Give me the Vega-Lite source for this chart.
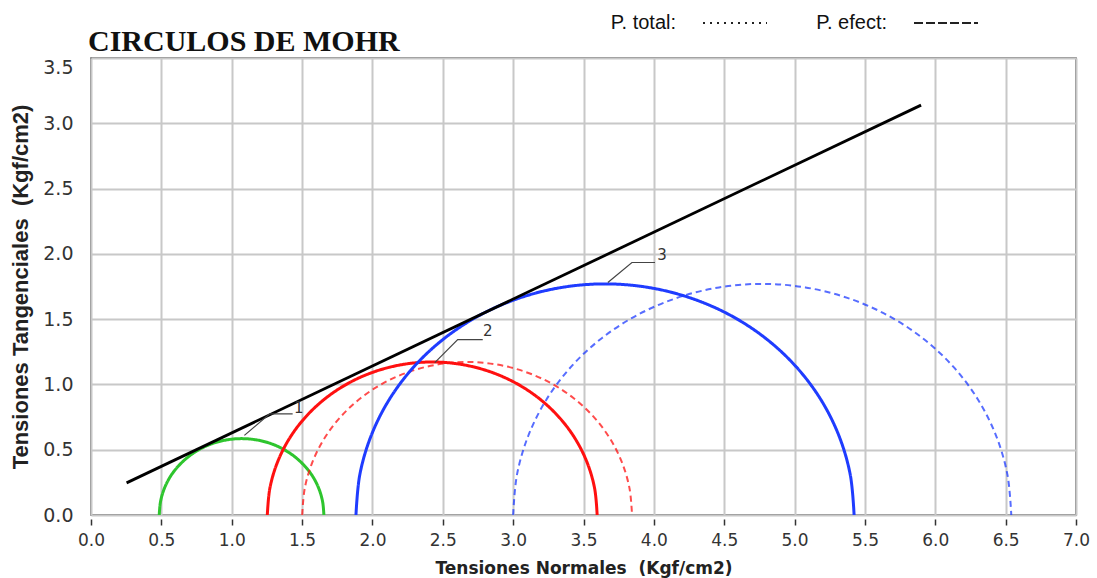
{
  "$schema": "https://vega.github.io/schema/vega-lite/v6.json",
  "width": 985,
  "height": 457,
  "autosize": "none",
  "padding": {"left": 91, "top": 58, "right": 21, "bottom": 63},
  "background": "white",
  "title": {"text": "CIRCULOS DE MOHR", "anchor": "start", "frame": "group", "font": "Liberation Serif", "fontSize": 30, "fontWeight": "bold", "color": "#111", "offset": -67, "dx": -3},
  "config": {"view": {"stroke": "#555", "strokeWidth": 1.5}},
  "resolve": {"scale": {"strokeDash": "independent"}},
  "datasets": {
    "circ": [
      {"c": "1", "t": "P. efect:", "x": 0.485, "y": 0}, {"c": "1", "t": "P. efect:", "x": 0.494, "y": 0.102}, {"c": "1", "t": "P. efect:", "x": 0.52, "y": 0.2}, {"c": "1", "t": "P. efect:", "x": 0.563, "y": 0.293}, {"c": "1", "t": "P. efect:", "x": 0.622, "y": 0.376}, {"c": "1", "t": "P. efect:", "x": 0.694, "y": 0.448}, {"c": "1", "t": "P. efect:", "x": 0.778, "y": 0.507}, {"c": "1", "t": "P. efect:", "x": 0.87, "y": 0.55}, {"c": "1", "t": "P. efect:", "x": 0.968, "y": 0.576}, {"c": "1", "t": "P. efect:", "x": 1.07, "y": 0.585}, {"c": "1", "t": "P. efect:", "x": 1.172, "y": 0.576}, {"c": "1", "t": "P. efect:", "x": 1.27, "y": 0.55}, {"c": "1", "t": "P. efect:", "x": 1.362, "y": 0.507}, {"c": "1", "t": "P. efect:", "x": 1.446, "y": 0.448}, {"c": "1", "t": "P. efect:", "x": 1.518, "y": 0.376}, {"c": "1", "t": "P. efect:", "x": 1.577, "y": 0.293}, {"c": "1", "t": "P. efect:", "x": 1.62, "y": 0.2}, {"c": "1", "t": "P. efect:", "x": 1.646, "y": 0.102}, {"c": "1", "t": "P. efect:", "x": 1.655, "y": 0},
      {"c": "2", "t": "P. efect:", "x": 1.253, "y": 0}, {"c": "2", "t": "P. efect:", "x": 1.271, "y": 0.204}, {"c": "2", "t": "P. efect:", "x": 1.324, "y": 0.401}, {"c": "2", "t": "P. efect:", "x": 1.41, "y": 0.586}, {"c": "2", "t": "P. efect:", "x": 1.527, "y": 0.753}, {"c": "2", "t": "P. efect:", "x": 1.672, "y": 0.898}, {"c": "2", "t": "P. efect:", "x": 1.839, "y": 1.015}, {"c": "2", "t": "P. efect:", "x": 2.024, "y": 1.101}, {"c": "2", "t": "P. efect:", "x": 2.222, "y": 1.154}, {"c": "2", "t": "P. efect:", "x": 2.425, "y": 1.172}, {"c": "2", "t": "P. efect:", "x": 2.628, "y": 1.154}, {"c": "2", "t": "P. efect:", "x": 2.826, "y": 1.101}, {"c": "2", "t": "P. efect:", "x": 3.011, "y": 1.015}, {"c": "2", "t": "P. efect:", "x": 3.178, "y": 0.898}, {"c": "2", "t": "P. efect:", "x": 3.323, "y": 0.753}, {"c": "2", "t": "P. efect:", "x": 3.44, "y": 0.586}, {"c": "2", "t": "P. efect:", "x": 3.526, "y": 0.401}, {"c": "2", "t": "P. efect:", "x": 3.579, "y": 0.204}, {"c": "2", "t": "P. efect:", "x": 3.597, "y": 0},
      {"c": "2", "t": "P. total:", "x": 1.501, "y": 0}, {"c": "2", "t": "P. total:", "x": 1.519, "y": 0.204}, {"c": "2", "t": "P. total:", "x": 1.572, "y": 0.401}, {"c": "2", "t": "P. total:", "x": 1.658, "y": 0.586}, {"c": "2", "t": "P. total:", "x": 1.775, "y": 0.753}, {"c": "2", "t": "P. total:", "x": 1.92, "y": 0.898}, {"c": "2", "t": "P. total:", "x": 2.087, "y": 1.015}, {"c": "2", "t": "P. total:", "x": 2.272, "y": 1.101}, {"c": "2", "t": "P. total:", "x": 2.47, "y": 1.154}, {"c": "2", "t": "P. total:", "x": 2.673, "y": 1.172}, {"c": "2", "t": "P. total:", "x": 2.876, "y": 1.154}, {"c": "2", "t": "P. total:", "x": 3.074, "y": 1.101}, {"c": "2", "t": "P. total:", "x": 3.259, "y": 1.015}, {"c": "2", "t": "P. total:", "x": 3.426, "y": 0.898}, {"c": "2", "t": "P. total:", "x": 3.571, "y": 0.753}, {"c": "2", "t": "P. total:", "x": 3.688, "y": 0.586}, {"c": "2", "t": "P. total:", "x": 3.774, "y": 0.401}, {"c": "2", "t": "P. total:", "x": 3.827, "y": 0.204}, {"c": "2", "t": "P. total:", "x": 3.845, "y": 0},
      {"c": "3", "t": "P. efect:", "x": 1.883, "y": 0}, {"c": "3", "t": "P. efect:", "x": 1.91, "y": 0.307}, {"c": "3", "t": "P. efect:", "x": 1.99, "y": 0.605}, {"c": "3", "t": "P. efect:", "x": 2.12, "y": 0.885}, {"c": "3", "t": "P. efect:", "x": 2.297, "y": 1.138}, {"c": "3", "t": "P. efect:", "x": 2.515, "y": 1.356}, {"c": "3", "t": "P. efect:", "x": 2.768, "y": 1.533}, {"c": "3", "t": "P. efect:", "x": 3.048, "y": 1.663}, {"c": "3", "t": "P. efect:", "x": 3.346, "y": 1.743}, {"c": "3", "t": "P. efect:", "x": 3.653, "y": 1.77}, {"c": "3", "t": "P. efect:", "x": 3.96, "y": 1.743}, {"c": "3", "t": "P. efect:", "x": 4.258, "y": 1.663}, {"c": "3", "t": "P. efect:", "x": 4.538, "y": 1.533}, {"c": "3", "t": "P. efect:", "x": 4.791, "y": 1.356}, {"c": "3", "t": "P. efect:", "x": 5.009, "y": 1.138}, {"c": "3", "t": "P. efect:", "x": 5.186, "y": 0.885}, {"c": "3", "t": "P. efect:", "x": 5.316, "y": 0.605}, {"c": "3", "t": "P. efect:", "x": 5.396, "y": 0.307}, {"c": "3", "t": "P. efect:", "x": 5.423, "y": 0},
      {"c": "3", "t": "P. total:", "x": 3.0, "y": 0}, {"c": "3", "t": "P. total:", "x": 3.027, "y": 0.307}, {"c": "3", "t": "P. total:", "x": 3.107, "y": 0.605}, {"c": "3", "t": "P. total:", "x": 3.237, "y": 0.885}, {"c": "3", "t": "P. total:", "x": 3.414, "y": 1.138}, {"c": "3", "t": "P. total:", "x": 3.632, "y": 1.356}, {"c": "3", "t": "P. total:", "x": 3.885, "y": 1.533}, {"c": "3", "t": "P. total:", "x": 4.165, "y": 1.663}, {"c": "3", "t": "P. total:", "x": 4.463, "y": 1.743}, {"c": "3", "t": "P. total:", "x": 4.77, "y": 1.77}, {"c": "3", "t": "P. total:", "x": 5.077, "y": 1.743}, {"c": "3", "t": "P. total:", "x": 5.375, "y": 1.663}, {"c": "3", "t": "P. total:", "x": 5.655, "y": 1.533}, {"c": "3", "t": "P. total:", "x": 5.908, "y": 1.356}, {"c": "3", "t": "P. total:", "x": 6.126, "y": 1.138}, {"c": "3", "t": "P. total:", "x": 6.303, "y": 0.885}, {"c": "3", "t": "P. total:", "x": 6.433, "y": 0.605}, {"c": "3", "t": "P. total:", "x": 6.513, "y": 0.307}, {"c": "3", "t": "P. total:", "x": 6.54, "y": 0}
    ],
    "env": [{"x": 0.253, "y": 0.246}, {"x": 5.899, "y": 3.139}],
    "lead": [
      {"id": "1", "s": 1, "x": 1.09, "y": 0.61}, {"id": "1", "s": 2, "x": 1.27, "y": 0.775}, {"id": "1", "s": 3, "x": 1.433, "y": 0.775},
      {"id": "2", "s": 1, "x": 2.443, "y": 1.167}, {"id": "2", "s": 2, "x": 2.606, "y": 1.343}, {"id": "2", "s": 3, "x": 2.784, "y": 1.343},
      {"id": "3", "s": 1, "x": 3.673, "y": 1.781}, {"id": "3", "s": 2, "x": 3.844, "y": 1.934}, {"id": "3", "s": 3, "x": 4.008, "y": 1.934}
    ],
    "lab": [{"n": "1", "x": 1.476, "y": 0.821}, {"n": "2", "x": 2.819, "y": 1.412}, {"n": "3", "x": 4.058, "y": 1.995}]
  },
  "layer": [
    {
      "data": {"name": "circ"},
      "mark": {"type": "line", "interpolate": "catmull-rom"},
      "encoding": {
        "x": {"field": "x", "type": "quantitative", "scale": {"domain": [0, 7], "nice": false, "zero": false},
          "axis": {"values": [0, 0.5, 1, 1.5, 2, 2.5, 3, 3.5, 4, 4.5, 5, 5.5, 6, 6.5, 7], "format": ".1f", "grid": true, "gridColor": "#c8c8c8", "gridWidth": 2, "domain": false, "tickColor": "#333", "tickSize": 6, "tickWidth": 1.5, "offset": 4, "labelFont": "DejaVu Sans", "labelFontSize": 17, "labelColor": "#333", "labelPadding": 7, "labelFlush": false, "title": "Tensiones Normales\u00a0 (Kgf/cm2)", "titleFont": "DejaVu Sans", "titleFontWeight": "bold", "titleFontSize": 17, "titleColor": "#222", "titlePadding": 12}},
        "y": {"field": "y", "type": "quantitative", "scale": {"domain": [0, 3.5], "nice": false},
          "axis": {"values": [0, 0.5, 1, 1.5, 2, 2.5, 3, 3.5], "format": ".1f", "grid": true, "gridColor": "#c8c8c8", "gridWidth": 2, "domain": false, "ticks": false, "labelPadding": 18, "labelFont": "DejaVu Sans", "labelFontSize": 19, "labelColor": "#333", "labelFlush": false, "labelBaseline": {"condition": {"test": "datum.value === 3.5", "value": "top"}, "value": "middle"}, "title": "Tensiones Tangenciales\u00a0 (Kgf/cm2)", "titleFont": "Liberation Sans", "titleFontWeight": "bold", "titleFontSize": 22, "titleColor": "#222", "titlePadding": 10}},
        "color": {"field": "c", "type": "nominal", "scale": {"domain": ["1", "2", "3"], "range": ["#2ec52e", "#ff1010", "#1f3cff"]}, "legend": null},
        "strokeDash": {"field": "t", "type": "nominal", "scale": {"domain": ["P. total:", "P. efect:"], "range": [[6, 4], [1, 0]]}, "legend": null},
        "strokeWidth": {"field": "t", "type": "nominal", "scale": {"domain": ["P. total:", "P. efect:"], "range": [2, 3]}, "legend": null},
        "opacity": {"field": "t", "type": "nominal", "scale": {"domain": ["P. total:", "P. efect:"], "range": [0.75, 1]}, "legend": null}
      }
    },
    {
      "data": {"name": "circ"},
      "transform": [{"filter": "datum.y < 0"}],
      "mark": {"type": "line", "color": "#222"},
      "encoding": {
        "x": {"field": "x", "type": "quantitative"},
        "y": {"field": "y", "type": "quantitative"},
        "strokeDash": {"field": "t", "type": "nominal", "scale": {"domain": ["P. total:", "P. efect:"], "range": [[2, 5], [9, 3]]},
          "legend": {"orient": "none", "legendX": 611, "legendY": -68, "direction": "horizontal", "title": null, "symbolType": "stroke", "symbolSize": 4096, "symbolStrokeWidth": 2, "symbolStrokeColor": "#222", "labelFont": "Liberation Sans", "labelFontSize": 20, "labelColor": "#111", "labelAlign": "right", "labelOffset": -92, "columnPadding": 45}}
      }
    },
    {
      "data": {"name": "env"},
      "mark": {"type": "line", "color": "#000", "strokeWidth": 2.8},
      "encoding": {"x": {"field": "x", "type": "quantitative"}, "y": {"field": "y", "type": "quantitative"}}
    },
    {
      "data": {"name": "lead"},
      "mark": {"type": "line", "color": "#444", "strokeWidth": 1.2},
      "encoding": {"x": {"field": "x", "type": "quantitative"}, "y": {"field": "y", "type": "quantitative"}, "detail": {"field": "id"}, "order": {"field": "s"}}
    },
    {
      "data": {"name": "lab"},
      "mark": {"type": "text", "font": "DejaVu Sans", "fontSize": 15, "color": "#333", "align": "center", "baseline": "middle"},
      "encoding": {"x": {"field": "x", "type": "quantitative"}, "y": {"field": "y", "type": "quantitative"}, "text": {"field": "n"}}
    }
  ]
}
